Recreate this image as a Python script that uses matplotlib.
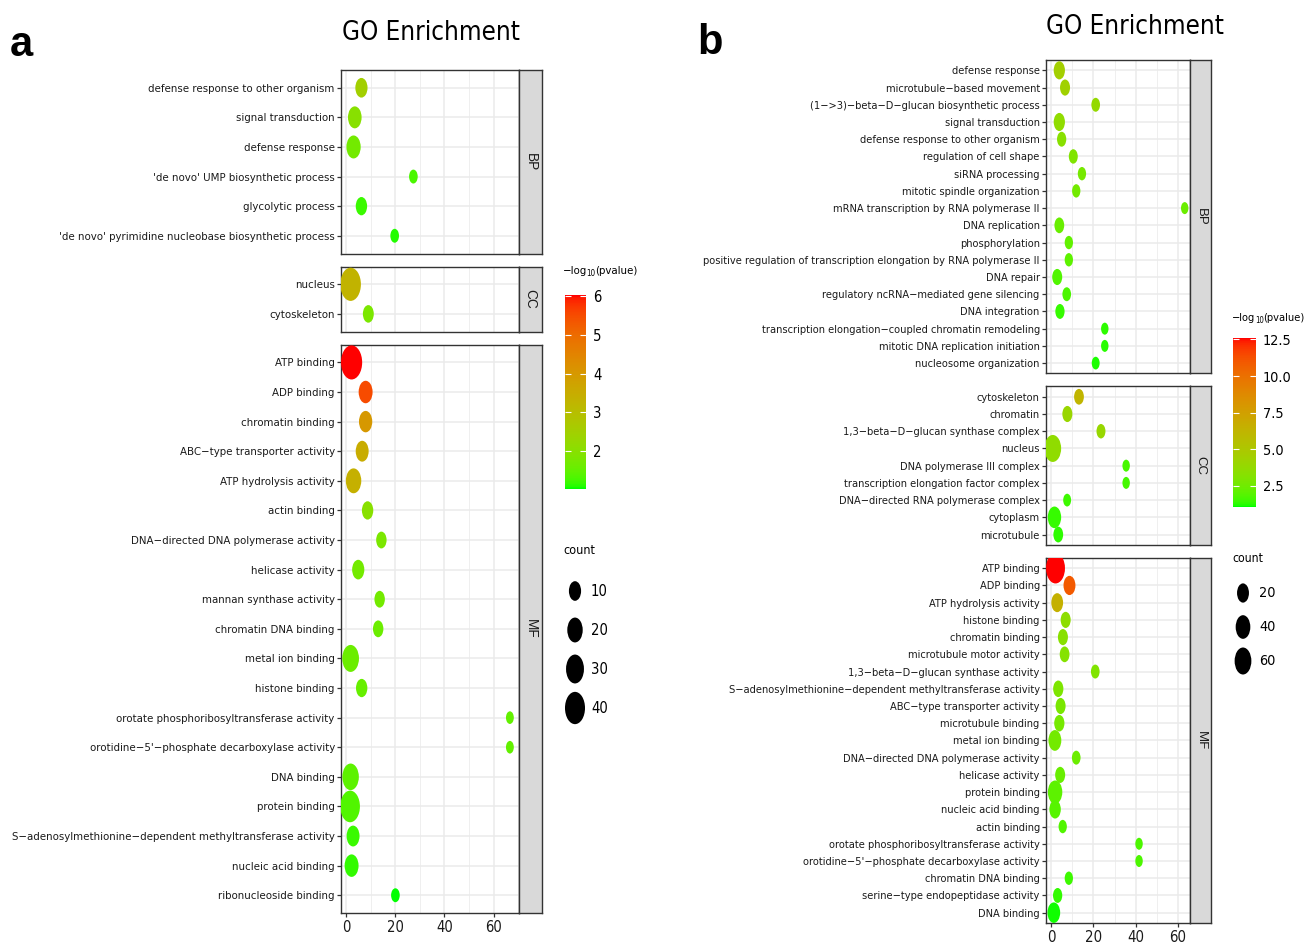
import matplotlib
matplotlib.use("Agg")
import matplotlib.pyplot as plt
import numpy as np
from matplotlib import font_manager as fm
from matplotlib.path import Path
from matplotlib.markers import MarkerStyle
from matplotlib.transforms import Affine2D
from matplotlib.colors import ListedColormap, Normalize
from matplotlib.cm import ScalarMappable
from matplotlib.ticker import MultipleLocator

# ---------------- panel a data ----------------
a_bp_terms = ["defense response to other organism", "signal transduction", "defense response",
              "'de novo' UMP biosynthetic process", "glycolytic process",
              "'de novo' pyrimidine nucleobase biosynthetic process"]
a_bp_fold = [6.3, 3.6, 3.1, 27.4, 6.3, 19.8]
a_bp_count = [10, 14, 16, 3, 8, 3]
a_bp_logp = [2.5, 2.0, 1.7, 1.3, 1.2, 1.1]

a_cc_terms = ["nucleus", "cytoskeleton"]
a_cc_fold = [1.9, 9.1]
a_cc_count = [43, 7]
a_cc_logp = [3.3, 1.8]

a_mf_terms = ["ATP binding", "ADP binding", "chromatin binding", "ABC\u2212type transporter activity",
              "ATP hydrolysis activity", "actin binding", "DNA\u2212directed DNA polymerase activity",
              "helicase activity", "mannan synthase activity", "chromatin DNA binding",
              "metal ion binding", "histone binding", "orotate phosphoribosyltransferase activity",
              "orotidine\u22125'\u2212phosphate decarboxylase activity", "DNA binding", "protein binding",
              "S\u2212adenosylmethionine\u2212dependent methyltransferase activity",
              "nucleic acid binding", "ribonucleoside binding"]
a_mf_fold = [2.3, 8.0, 8.0, 6.6, 3.1, 8.8, 14.4, 5.0, 13.7, 13.1,
             1.9, 6.4, 66.6, 66.6, 1.9, 1.7, 2.9, 2.3, 20.1]
a_mf_count = [46, 15, 13, 12, 20, 8, 6, 10, 6, 6,
              25, 8, 2, 2, 24, 38, 12, 15, 3]
a_mf_logp = [6.02, 5.5, 4.0, 3.5, 3.4, 2.0, 1.8, 1.7, 1.7, 1.6,
             1.6, 1.55, 1.5, 1.5, 1.45, 1.35, 1.2, 1.15, 1.03]

a_cbar_ticks = [2, 3, 4, 5, 6]
a_count_ticks = [10, 20, 30, 40]

# ---------------- panel b data ----------------
b_bp_terms = ["defense response", "microtubule\u2212based movement",
              "(1\u2212>3)\u2212beta\u2212D\u2212glucan biosynthetic process", "signal transduction",
              "defense response to other organism", "regulation of cell shape", "siRNA processing",
              "mitotic spindle organization", "mRNA transcription by RNA polymerase II",
              "DNA replication", "phosphorylation",
              "positive regulation of transcription elongation by RNA polymerase II",
              "DNA repair", "regulatory ncRNA\u2212mediated gene silencing", "DNA integration",
              "transcription elongation\u2212coupled chromatin remodeling",
              "mitotic DNA replication initiation", "nucleosome organization"]
b_bp_fold = [3.9, 6.6, 21.1, 3.9, 5.0, 10.5, 14.6, 11.9, 63.2,
             3.9, 8.4, 8.4, 2.9, 7.4, 4.2, 25.4, 25.4, 21.1]
b_bp_count = [16, 10, 5, 16, 7, 6, 4, 4, 2,
              9, 4, 4, 10, 5, 7, 2, 2, 3]
b_bp_logp = [4.5, 4.3, 3.8, 3.6, 3.3, 3.0, 2.7, 2.6, 2.4,
             2.3, 2.1, 2.0, 1.8, 1.7, 1.4, 1.3, 1.25, 1.15]

b_cc_terms = ["cytoskeleton", "chromatin", "1,3\u2212beta\u2212D\u2212glucan synthase complex", "nucleus",
              "DNA polymerase III complex", "transcription elongation factor complex",
              "DNA\u2212directed RNA polymerase complex", "cytoplasm", "microtubule"]
b_cc_fold = [13.2, 7.7, 23.6, 0.8, 35.5, 35.5, 7.6, 1.6, 3.4]
b_cc_count = [9, 10, 6, 60, 2, 2, 3, 30, 9]
b_cc_logp = [6.2, 4.0, 3.9, 3.6, 1.6, 1.55, 1.5, 1.4, 1.3]

b_mf_terms = ["ATP binding", "ADP binding", "ATP hydrolysis activity", "histone binding",
              "chromatin binding", "microtubule motor activity",
              "1,3\u2212beta\u2212D\u2212glucan synthase activity",
              "S\u2212adenosylmethionine\u2212dependent methyltransferase activity",
              "ABC\u2212type transporter activity", "microtubule binding", "metal ion binding",
              "DNA\u2212directed DNA polymerase activity", "helicase activity", "protein binding",
              "nucleic acid binding", "actin binding", "orotate phosphoribosyltransferase activity",
              "orotidine\u22125'\u2212phosphate decarboxylase activity", "chromatin DNA binding",
              "serine\u2212type endopeptidase activity", "DNA binding"]
b_mf_fold = [2.1, 8.7, 2.9, 6.9, 5.6, 6.4, 20.9, 3.4, 4.5, 3.9, 1.8,
             11.9, 4.3, 1.9, 1.9, 5.5, 41.6, 41.6, 8.4, 3.1, 1.3]
b_mf_count = [85, 20, 19, 10, 10, 9, 5, 11, 10, 11, 26,
              5, 10, 38, 17, 4, 2, 2, 4, 7, 25]
b_mf_logp = [12.6, 10.9, 6.5, 3.5, 3.3, 3.2, 3.0, 2.9, 2.8, 2.7, 2.6,
             2.4, 2.3, 2.0, 1.9, 1.8, 1.7, 1.7, 1.5, 1.35, 1.1]

b_cbar_ticks = [2.5, 5.0, 7.5, 10.0, 12.5]
b_count_ticks = [20, 40, 60]

W, H = 1314, 947


def pick_font():
    # the original uses a horizontally squeezed Helvetica: take the narrowest face available
    for fam, stretch in [("Liberation Sans Narrow", "normal"), ("DejaVu Sans", "condensed")]:
        try:
            path = fm.findfont(fm.FontProperties(family=fam, stretch=stretch),
                               fallback_to_default=False)
        except ValueError:
            continue
        if "Narrow" in path or "Condensed" in path:
            return fam, stretch
    return "Liberation Sans", "normal"


FAMILY, STRETCH = pick_font()
plt.rcParams["font.family"] = [FAMILY, "DejaVu Sans"]
plt.rcParams["font.stretch"] = STRETCH

# green -> red gradient interpolated in CIE Lab, like ggplot's scale_colour_gradient
WHITE = np.array([0.95047, 1.0, 1.08883])
M_XYZ = np.array([[0.4124564, 0.3575761, 0.1804375],
                  [0.2126729, 0.7151522, 0.0721750],
                  [0.0193339, 0.1191920, 0.9503041]])


def rgb2lab(rgb):
    rgb = np.asarray(rgb, float)
    lin = np.where(rgb <= 0.04045, rgb / 12.92, ((rgb + 0.055) / 1.055) ** 2.4)
    xyz = M_XYZ @ lin / WHITE
    f = np.where(xyz > 0.008856, np.cbrt(xyz), 7.787 * xyz + 16 / 116)
    return np.array([116 * f[1] - 16, 500 * (f[0] - f[1]), 200 * (f[1] - f[2])])


def lab2rgb(lab):
    L, a, b = lab.T
    fy_ = (L + 16) / 116
    f = np.stack([fy_ + a / 500, fy_, fy_ - b / 200], axis=1)
    xyz = np.where(f ** 3 > 0.008856, f ** 3, (f - 16 / 116) / 7.787) * WHITE
    lin = np.clip(xyz @ np.linalg.inv(M_XYZ).T, 0, 1)
    rgb = np.where(lin <= 0.0031308, 12.92 * lin, 1.055 * lin ** (1 / 2.4) - 0.055)
    return np.clip(rgb, 0, 1)


lab0, lab1 = rgb2lab([0, 1, 0]), rgb2lab([1, 0, 0])
tt = np.linspace(0, 1, 256)[:, None]
cmap = ListedColormap(lab2rgb(lab0 + tt * (lab1 - lab0)))

# vertically stretched dots, as in the original (squeezed) figure
ELLIPSE = MarkerStyle(Path.unit_circle().transformed(Affine2D().scale(0.62, 1.0)))


def dot_size(count, h0, k):
    h_px = h0 + k * np.sqrt(np.asarray(count, float))
    return (h_px * 72 / 100) ** 2


def fx(x):
    return x / W


def fy(y):
    return 1 - y / H


fig = plt.figure(figsize=(W / 100, H / 100), dpi=100)
renderer = fig.canvas.get_renderer()


def text_width(s, size):
    prop = fm.FontProperties(family=FAMILY, stretch=STRETCH, size=size)
    return renderer.get_text_width_height_descent(s, prop, ismath=False)[0]


def fit_size(s, target_px):
    return 10 * target_px / text_width(s, 10)


def draw_panel(facets, left, right, top, bottom, gap, strip_w, xlim, norm, h0, k, fs, fs_num):
    units = [len(f[1]) + 0.2 for f in facets]
    unit = (bottom - top - gap * (len(facets) - 1)) / sum(units)
    y0 = top
    for i, (name, terms, fold, count, logp) in enumerate(facets):
        h = units[i] * unit
        n = len(terms)
        ax = fig.add_axes([fx(left), fy(y0 + h), fx(right - left), h / H])
        ys = np.arange(n)[::-1]
        ax.scatter(fold, ys, s=dot_size(count, h0, k), c=logp, cmap=cmap, norm=norm,
                   marker=ELLIPSE, linewidths=0, zorder=3)
        ax.set_xlim(*xlim)
        ax.set_ylim(-0.6, n - 0.4)
        ax.set_yticks(ys)
        ax.set_yticklabels(terms, fontsize=fs, color="#1a1a1a")
        ax.xaxis.set_major_locator(MultipleLocator(20))
        ax.xaxis.set_minor_locator(MultipleLocator(10))
        ax.set_axisbelow(True)
        ax.grid(which="major", color="#EBEBEB", lw=1.1)
        ax.grid(which="minor", axis="x", color="#EBEBEB", lw=0.55)
        ax.tick_params(axis="y", length=3, width=0.9, color="#333333", pad=1.5)
        ax.tick_params(axis="x", which="minor", length=0)
        if i == len(facets) - 1:
            ax.tick_params(axis="x", length=3, width=0.9, color="#333333",
                           labelsize=fs_num, labelcolor="#1a1a1a", pad=2)
        else:
            ax.tick_params(axis="x", length=0, labelbottom=False)
        for sp in ax.spines.values():
            sp.set_color("#333333")
            sp.set_linewidth(1.0)
        # facet strip
        sax = fig.add_axes([fx(right), fy(y0 + h), fx(strip_w), h / H])
        sax.set_facecolor("#D9D9D9")
        sax.set_xticks([])
        sax.set_yticks([])
        for sp in sax.spines.values():
            sp.set_color("#333333")
            sp.set_linewidth(1.0)
        sax.text(0.5, 0.5, name, rotation=-90, ha="center", va="center", fontsize=fs * 1.2,
                 color="#1a1a1a", family="Liberation Sans", stretch="normal",
                 transform=sax.transAxes)
        y0 += h + gap


def draw_legends(norm, cbar_box, ticks, title_xy, count_title_xy, count_ticks,
                 dot_x, dot_ys, label_x, h0, k, fs, fs_num):
    x0, y0, x1, y1 = cbar_box
    cax = fig.add_axes([fx(x0), fy(y1), fx(x1 - x0), (y1 - y0) / H])
    cb = fig.colorbar(ScalarMappable(norm=norm, cmap=cmap), cax=cax)
    cb.outline.set_visible(False)
    cb.set_ticks(ticks)
    cax.tick_params(axis="y", direction="in", length=4, width=0.8, color="white",
                    left=True, right=True, labelsize=fs_num, pad=5)
    # "-log10(pvalue)" with a subscript 10
    tx, ty = title_xy
    sub = fs * 0.7
    fig.text(fx(tx), fy(ty), "\u2212log", fontsize=fs, ha="left", va="baseline")
    tx += text_width("\u2212log", fs) - 0.5
    fig.text(fx(tx), fy(ty - 0.5 * sub * 100 / 72 * -0.45), "10", fontsize=sub, ha="left",
             va="baseline")
    tx += text_width("10", sub) - 0.5
    fig.text(fx(tx), fy(ty), "(pvalue)", fontsize=fs, ha="left", va="baseline")
    fig.text(fx(count_title_xy[0]), fy(count_title_xy[1]), "count",
             fontsize=fs * 1.1, ha="left", va="center")
    lax = fig.add_axes([0, 0, 1, 1], facecolor="none")
    lax.set_xlim(0, W)
    lax.set_ylim(H, 0)
    lax.axis("off")
    lax.scatter([dot_x] * len(count_ticks), dot_ys, s=dot_size(count_ticks, h0, k),
                c="black", marker=ELLIPSE, linewidths=0)
    for c, yy in zip(count_ticks, dot_ys):
        lax.text(label_x, yy, str(c), fontsize=fs_num, ha="left", va="center")


# font sizes fitted to the label widths measured in the reference
fs_a = fit_size("defense response to other organism", 186)
fs_b = fit_size("positive regulation of transcription elongation by RNA polymerase II", 338)
fs_title = fit_size("GO Enrichment", 178)

# panel a
norm_a = Normalize(vmin=1.03, vmax=6.02)
facets_a = [("BP", a_bp_terms, a_bp_fold, a_bp_count, a_bp_logp),
            ("CC", a_cc_terms, a_cc_fold, a_cc_count, a_cc_logp),
            ("MF", a_mf_terms, a_mf_fold, a_mf_count, a_mf_logp)]
draw_panel(facets_a, 341, 519, 70, 913, 13, 23, (-2.0, 70.3), norm_a, 7.0, 4.0,
           fs_a, fs_a * 1.3)
draw_legends(norm_a, (565, 295, 586, 489), a_cbar_ticks, (563, 274), (563, 550),
             a_count_ticks, 575, [591, 630, 669, 708], 591, 7.0, 4.0, fs_a, fs_a * 1.3)
fig.text(fx(431), fy(33), "GO Enrichment", fontsize=fs_title, ha="center", va="center")
fig.text(fx(10), fy(45), "a", fontsize=30, fontweight="bold", family="Liberation Sans",
         stretch="normal", ha="left", va="center")

# panel b
norm_b = Normalize(vmin=1.05, vmax=12.6)
facets_b = [("BP", b_bp_terms, b_bp_fold, b_bp_count, b_bp_logp),
            ("CC", b_cc_terms, b_cc_fold, b_cc_count, b_cc_logp),
            ("MF", b_mf_terms, b_mf_fold, b_mf_count, b_mf_logp)]
draw_panel(facets_b, 1046, 1190, 60, 923, 13, 21, (-2.4, 65.7), norm_b, 8.65, 2.37,
           fs_b, fs_b * 1.35)
draw_legends(norm_b, (1233, 338, 1256, 507), b_cbar_ticks, (1232, 321), (1232, 558),
             b_count_ticks, 1243, [593, 627, 661], 1259, 8.65, 2.37, fs_b, fs_b * 1.3)
fig.text(fx(1135), fy(27), "GO Enrichment", fontsize=fs_title, ha="center", va="center")
fig.text(fx(697), fy(43), "b", fontsize=30, fontweight="bold", family="Liberation Sans",
         stretch="normal", ha="left", va="center")

fig.savefig("out.png", dpi=100)
